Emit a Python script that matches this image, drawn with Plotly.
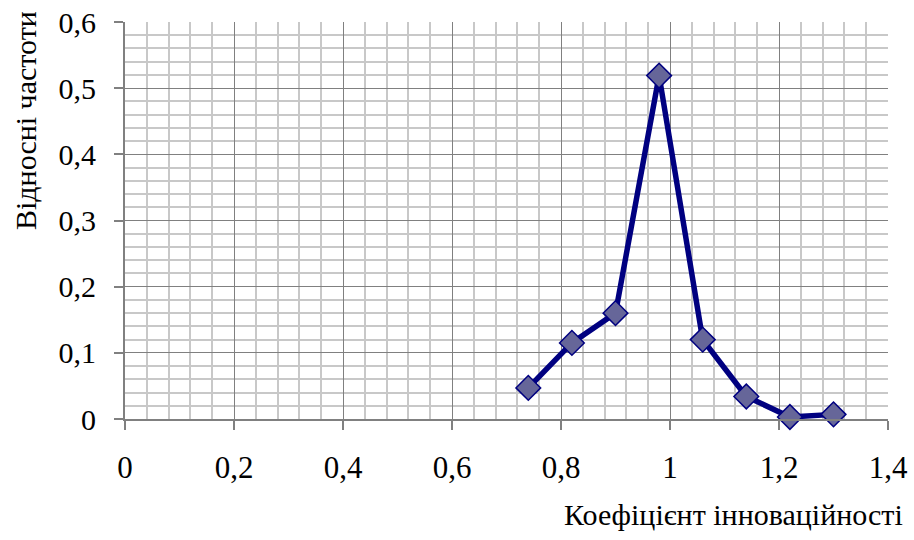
import plotly.graph_objects as go

x_vals = [0.74, 0.82, 0.90, 0.98, 1.06, 1.14, 1.22, 1.30]
y_vals = [0.047, 0.115, 0.16, 0.519, 0.12, 0.034, 0.003, 0.007]

x_title = "Коефіцієнт інноваційності"
y_title = "Відносні частоти"

FONT = "'Times New Roman', 'Liberation Serif', 'DejaVu Serif', serif"

fig = go.Figure()
fig.add_trace(go.Scatter(
    x=x_vals, y=y_vals, mode="lines+markers",
    line=dict(color="#000080", width=5.5),
    marker=dict(symbol="diamond", size=19, color="#666699",
                line=dict(color="#000080", width=1.5)),
    cliponaxis=False, showlegend=False,
))

fig.update_layout(
    width=914, height=540,
    margin=dict(l=125, r=26, t=22, b=121),
    paper_bgcolor="white", plot_bgcolor="white",
    separators=", ",
    font=dict(family=FONT, size=30, color="black"),
)

fig.update_xaxes(
    range=[0, 1.4], dtick=0.2, tick0=0, automargin=False,
    showgrid=True, gridcolor="#808080", gridwidth=1.3,
    minor=dict(dtick=0.04, tick0=0, showgrid=True, gridcolor="#c8c8c8", gridwidth=2, ticks=""),
    showline=True, linecolor="#808080", linewidth=2,
    ticks="outside", ticklen=9, tickcolor="#808080", tickwidth=1.5,
    ticklabelstandoff=11, zeroline=False,
    tickfont=dict(family=FONT, size=31),
)
fig.update_yaxes(
    range=[0, 0.6], dtick=0.1, tick0=0, automargin=False,
    showgrid=True, gridcolor="#808080", gridwidth=1.3,
    minor=dict(dtick=0.02, tick0=0, showgrid=True, gridcolor="#c8c8c8", gridwidth=2, ticks=""),
    showline=True, linecolor="#808080", linewidth=2,
    ticks="outside", ticklen=9, tickcolor="#808080", tickwidth=1.5,
    ticklabelstandoff=12, zeroline=False,
    tickfont=dict(family=FONT, size=30),
)

fig.add_annotation(
    text=x_title, xref="paper", yref="paper",
    x=(905 - 125) / 763, y=(419 - 514) / 397,
    xanchor="right", yanchor="middle", showarrow=False,
    font=dict(family=FONT, size=30),
)
fig.add_annotation(
    text=y_title, xref="paper", yref="paper",
    x=(25 - 125) / 763, y=(419 - 121) / 397,
    xanchor="center", yanchor="middle", showarrow=False, textangle=-90,
    font=dict(family=FONT, size=30),
)

fig.write_html("out.html")
